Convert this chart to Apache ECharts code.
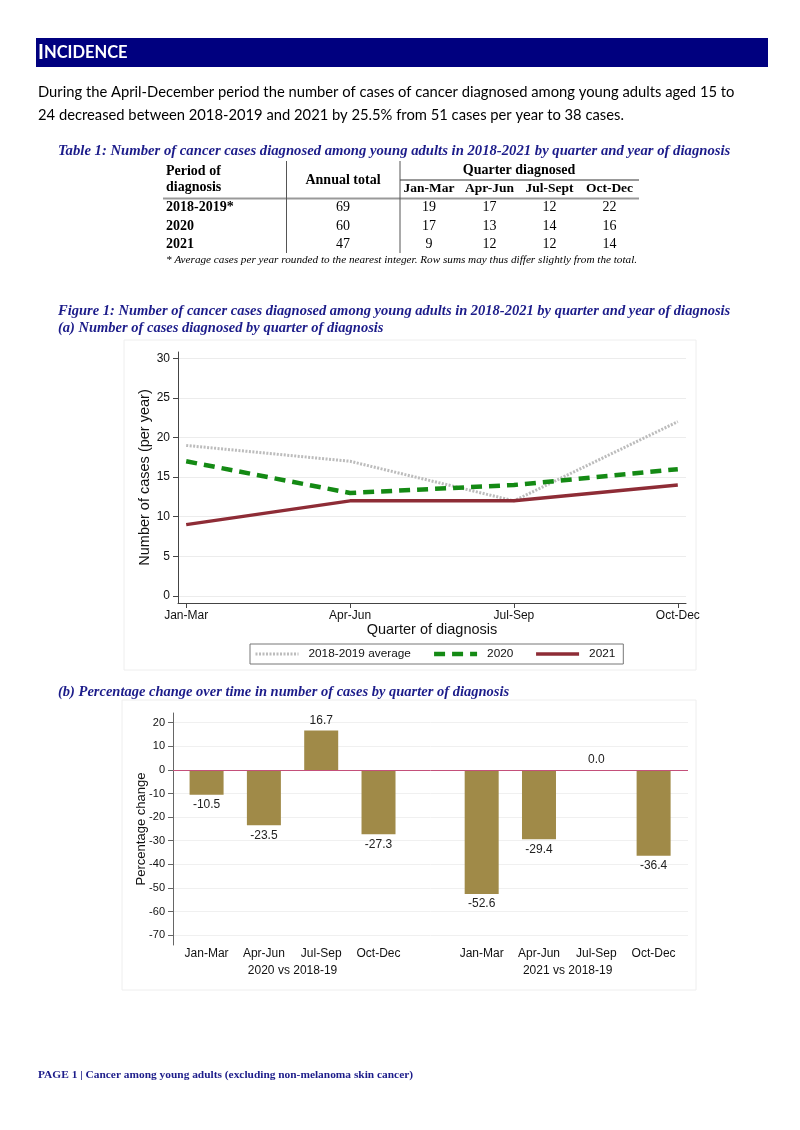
<!DOCTYPE html>
<html>
<head>
<meta charset="utf-8">
<script src="https://cdn.jsdelivr.net/npm/echarts@6/dist/echarts.min.js"></script>
<style>
  html, body { margin: 0; padding: 0; background: #fff; }
  #page { width: 800px; height: 1130px; }
</style>
</head>
<body>
<div id="page"></div>
<script>
// data
const quarters = ['Jan-Mar', 'Apr-Jun', 'Jul-Sep', 'Oct-Dec'];
const tableQuarters = ['Jan-Mar', 'Apr-Jun', 'Jul-Sept', 'Oct-Dec'];
const periods = ['2018-2019*', '2020', '2021'];
const annualTotals = [69, 60, 47];
const quarterCounts = [
  [19, 17, 12, 22],
  [17, 13, 14, 16],
  [9, 12, 12, 14]
];
const seriesNames = ['2018-2019 average', '2020', '2021'];
const avg2018_2019 = [19, 17, 12, 22];
const cases2020 = [17, 13, 14, 16];
const cases2021 = [9, 12, 12, 14];
const change2020 = [-10.5, -23.5, 16.7, -27.3];
const change2021 = [-52.6, -29.4, 0.0, -36.4];
const groupNames = ['2020 vs 2018-19', '2021 vs 2018-19'];
const caseTicks = [0, 5, 10, 15, 20, 25, 30];
const changeTicks = [20, 10, 0, -10, -20, -30, -40, -50, -60, -70];

const SANS = 'Liberation Sans';
const SERIF = 'Liberation Serif';
const BLUE = '#1c1c8a';
const GROUP2_START = 4.8; // x position of the second bar group

// bar positions on the value axis
const barPos = quarters.map((q, i) => i).concat(quarters.map((q, i) => i + GROUP2_START));
const barLabels = quarters.concat(quarters);
const barValues = change2020.concat(change2021);
const groupPos = [1.5, GROUP2_START + 1.5];

function txt(text, x, y, font, opts) {
  return {
    type: 'text',
    silent: true,
    style: Object.assign({
      text: text, x: x, y: y, font: font, fill: '#000',
      align: 'left', verticalAlign: 'middle'
    }, opts || {})
  };
}
function hline(x1, x2, y, stroke, w) {
  return { type: 'line', silent: true, shape: { x1: x1, y1: y, x2: x2, y2: y }, style: { stroke: stroke, lineWidth: w } };
}
function vline(x, y1, y2, stroke, w) {
  return { type: 'line', silent: true, shape: { x1: x, y1: y1, x2: x, y2: y2 }, style: { stroke: stroke, lineWidth: w } };
}

const CAP = 'italic bold 14.5px ' + SERIF;
const TB = 'bold 14px ' + SERIF;
const TR = '14px ' + SERIF;

// page text + table
let graphics = [
  { type: 'rect', silent: true, shape: { x: 36, y: 38, width: 732, height: 29 }, style: { fill: '#00007f' } },
  {
    type: 'text', silent: true,
    style: {
      text: '{a|I}{b|NCIDENCE}', x: 38, y: 53, verticalAlign: 'middle',
      rich: {
        a: { font: 'bold 20px Lato', fill: '#fff' },
        b: { font: 'bold 16.5px Lato', fill: '#fff' }
      }
    }
  },
  txt('During the April-December period the number of cases of cancer diagnosed among young adults aged 15 to', 38, 92, '14.75px Lato'),
  txt('24 decreased between 2018-2019 and 2021 by 25.5% from 51 cases per year to 38 cases.', 38, 115, '14.75px Lato'),
  txt('Table 1: Number of cancer cases diagnosed among young adults in 2018-2021 by quarter and year of diagnosis', 58, 151, 'italic bold 14.7px ' + SERIF, { fill: BLUE }),
  txt('Period of', 166, 171, TB),
  txt('diagnosis', 166, 187, TB),
  txt('Annual total', 343, 180, TB, { align: 'center' }),
  txt('Quarter diagnosed', 519, 170, TB, { align: 'center' }),
  hline(400, 639, 180, '#999', 2),
  hline(163, 639, 198.5, '#999', 2),
  vline(286.5, 161, 253, '#555', 1),
  vline(400, 161, 253, '#555', 1),
  txt('* Average cases per year rounded to the nearest integer. Row sums may thus differ slightly from the total.', 166, 260, 'italic 11.2px ' + SERIF),
  txt('Figure 1: Number of cancer cases diagnosed among young adults in 2018-2021 by quarter and year of diagnosis', 58, 311, CAP, { fill: BLUE }),
  txt('(a) Number of cases diagnosed by quarter of diagnosis', 58, 328, CAP, { fill: BLUE }),
  txt('(b) Percentage change over time in number of cases by quarter of diagnosis', 58, 692, CAP, { fill: BLUE }),
  txt('PAGE 1 | Cancer among young adults (excluding non-melanoma skin cancer)', 38, 1075, 'bold 11.4px ' + SERIF, { fill: BLUE }),
  { type: 'rect', silent: true, shape: { x: 124, y: 340, width: 572, height: 330 }, style: { fill: 'none', stroke: '#eeeeee', lineWidth: 1 } },
  { type: 'rect', silent: true, shape: { x: 122, y: 700, width: 574, height: 290 }, style: { fill: 'none', stroke: '#eeeeee', lineWidth: 1 } }
];
const colX = [429, 489.5, 549.5, 609.5];
const rowY = [207.5, 226, 244];
tableQuarters.forEach((q, j) => graphics.push(txt(q, colX[j], 189, 'bold 13.5px ' + SERIF, { align: 'center' })));
periods.forEach((p, i) => {
  graphics.push(txt(p, 166, rowY[i], TB));
  graphics.push(txt(String(annualTotals[i]), 343, rowY[i], TR, { align: 'center' }));
  quarterCounts[i].forEach((v, j) => graphics.push(txt(String(v), colX[j], rowY[i], TR, { align: 'center' })));
});

const chart = echarts.init(document.getElementById('page'), null, { renderer: 'canvas' });

const axisText = { fontFamily: SANS, fontSize: 12, color: '#111' };

// one style per line series, same order as seriesNames
const lineStyles = [
  { color: '#bcbcbc', width: 3, type: [2, 1.5] },
  { color: '#148a14', width: 4.5, type: [11, 7] },
  { color: '#8e2c36', width: 3.5, type: 'solid' }
];
const lineData = [avg2018_2019, cases2020, cases2021];

const option = {
  backgroundColor: '#fff',
  animation: false,
  graphic: graphics,
  grid: [
    { left: 178, right: 114, top: 352, bottom: 527, outerBoundsMode: 'none', containLabel: false },
    { left: 173, right: 112, top: 713, bottom: 185, outerBoundsMode: 'none', containLabel: false }
  ],
  legend: {
    left: 250, top: 644,
    orient: 'horizontal',
    padding: [4, 8, 4, 4],
    borderColor: '#777', borderWidth: 1,
    itemWidth: 43, itemHeight: 12, itemGap: 21,
    itemStyle: { opacity: 0 },
    textStyle: { fontFamily: SANS, fontSize: 11.8, color: '#111', padding: [0, 0, 0, 5] },
    data: seriesNames.map((n, k) => ({ name: n, lineStyle: lineStyles[k] }))
  },
  xAxis: [
    {
      gridIndex: 0, type: 'value', min: -0.05, max: 3.05,
      axisLine: { show: true, onZero: false, lineStyle: { color: '#444' } },
      axisTick: { show: true, length: 5, customValues: [0, 1, 2, 3], lineStyle: { color: '#444' } },
      axisLabel: Object.assign({ customValues: [0, 1, 2, 3], margin: 7, formatter: v => quarters[Math.round(v)] }, axisText),
      splitLine: { show: false },
      name: 'Quarter of diagnosis', nameLocation: 'middle', nameGap: 19, nameMoveOverlap: false,
      nameTextStyle: { fontFamily: SANS, fontSize: 14.5, color: '#111' }
    },
    {
      gridIndex: 1, type: 'value', min: -0.586, max: 8.4,
      axisLine: { show: false, onZero: false }, axisTick: { show: false },
      axisLabel: Object.assign({
        customValues: barPos, margin: 3,
        formatter: v => barLabels[barPos.findIndex(p => Math.abs(p - v) < 1e-6)]
      }, axisText),
      splitLine: { show: false }
    },
    {
      gridIndex: 1, type: 'value', min: -0.586, max: 8.4, position: 'bottom', offset: 17,
      axisLine: { show: false, onZero: false }, axisTick: { show: false },
      axisLabel: Object.assign({
        customValues: groupPos, margin: 3,
        formatter: v => groupNames[groupPos.findIndex(p => Math.abs(p - v) < 1e-6)]
      }, axisText),
      splitLine: { show: false }
    }
  ],
  yAxis: [
    {
      gridIndex: 0, type: 'value', min: -0.9, max: 30.8,
      axisLine: { show: true, onZero: false, lineStyle: { color: '#444' } },
      axisTick: { show: true, length: 5, customValues: caseTicks, lineStyle: { color: '#444' } },
      axisLabel: Object.assign({ customValues: caseTicks, margin: 8 }, axisText),
      splitLine: { show: true, lineStyle: { color: '#ececec' } },
      name: 'Number of cases (per year)', nameLocation: 'middle', nameGap: 26, nameMoveOverlap: false,
      nameTextStyle: { fontFamily: SANS, fontSize: 14.5, color: '#111' }
    },
    {
      gridIndex: 1, type: 'value', min: -74.2, max: 24.1,
      axisLine: { show: true, onZero: false, lineStyle: { color: '#666' } },
      axisTick: { show: true, length: 5, customValues: changeTicks, lineStyle: { color: '#666' } },
      axisLabel: Object.assign({ customValues: changeTicks, margin: 8 }, axisText, { fontSize: 11 }),
      splitLine: { show: true, lineStyle: { color: '#f0f0f0' } },
      name: 'Percentage change', nameLocation: 'middle', nameGap: 25, nameMoveOverlap: false,
      nameTextStyle: { fontFamily: SANS, fontSize: 13, color: '#111' }
    }
  ],
  series: seriesNames.map((n, k) => ({
    name: n, type: 'line', xAxisIndex: 0, yAxisIndex: 0,
    symbol: 'none',
    lineStyle: lineStyles[k],
    itemStyle: { color: lineStyles[k].color },
    data: lineData[k].map((v, i) => [i, v])
  })).concat([
    {
      name: 'Percentage change', type: 'bar', xAxisIndex: 1, yAxisIndex: 1,
      barWidth: 34,
      itemStyle: { color: '#a08a48' },
      label: {
        show: true, fontFamily: SANS, fontSize: 12, color: '#222', distance: 4,
        formatter: p => p.value[1].toFixed(1)
      },
      markLine: {
        silent: true, symbol: 'none', label: { show: false },
        lineStyle: { color: '#c4507a', width: 1, type: 'solid' },
        data: [{ yAxis: 0 }]
      },
      data: barValues.map((v, i) => ({
        value: [barPos[i], v],
        label: { position: v < 0 ? 'bottom' : 'top' }
      }))
    }
  ])
};

chart.setOption(option);
</script>
</body>
</html>
